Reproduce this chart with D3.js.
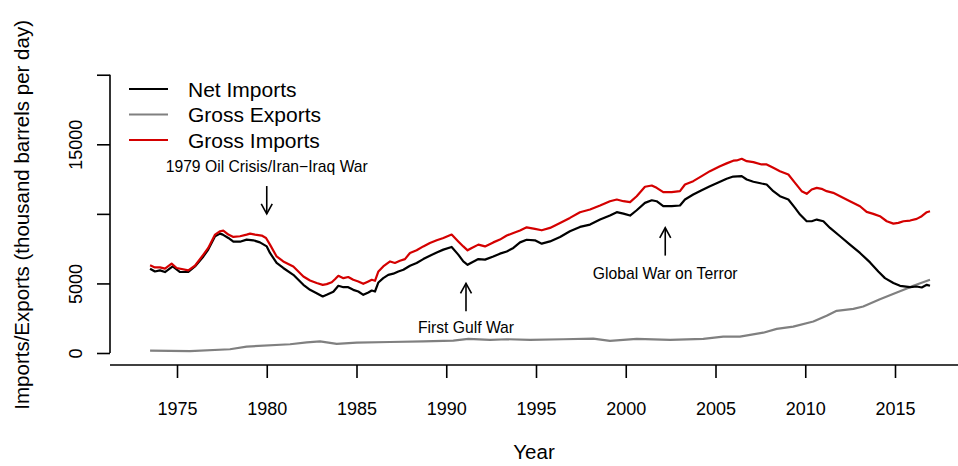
<!DOCTYPE html>
<html>
<head>
<meta charset="utf-8">
<script src="https://cdn.jsdelivr.net/npm/d3@7"></script>
<style>
  html, body { margin: 0; padding: 0; background: #fff; }
  svg { display: block; font-family: "Liberation Sans", Arial, Helvetica, sans-serif; }
</style>
</head>
<body>
<svg id="chart" width="958" height="466"></svg>
<script>
// U.S. crude oil trade, 12-month average, thousand barrels per day
const netYears = [1973.50,1973.77,1974.05,1974.33,1974.76,1975.17,1975.63,1976.00,1976.47,1976.74,1977.12,1977.40,1977.55,1977.86,1978.14,1978.51,1978.88,1979.25,1979.62,1980.00,1980.18,1980.55,1980.92,1981.48,1982.04,1982.41,1982.78,1983.12,1983.34,1983.71,1983.99,1984.27,1984.54,1984.82,1985.10,1985.38,1985.66,1985.85,1986.03,1986.22,1986.49,1986.77,1987.05,1987.33,1987.61,1987.98,1988.35,1988.72,1989.09,1989.47,1989.84,1990.30,1990.67,1990.95,1991.19,1991.42,1991.79,1992.16,1992.62,1992.99,1993.37,1993.74,1994.11,1994.48,1994.94,1995.32,1995.78,1996.34,1996.89,1997.45,1998.01,1998.57,1999.12,1999.50,1999.87,2000.24,2000.61,2001.07,2001.45,2001.72,2002.09,2002.56,2003.02,2003.30,2003.76,2004.23,2004.69,2005.25,2005.62,2005.99,2006.46,2006.74,2007.11,2007.57,2007.85,2008.22,2008.59,2009.06,2009.43,2009.71,2010.08,2010.36,2010.64,2011.01,2011.38,2011.94,2012.49,2013.05,2013.61,2014.07,2014.44,2014.91,2015.28,2015.84,2016.21,2016.49,2016.77,2016.95];
const netImports = [6060,5860,5940,5820,6220,5820,5820,6220,6940,7430,8390,8580,8510,8270,8000,8000,8150,8100,7950,7660,7190,6470,6110,5620,4900,4540,4300,4060,4180,4400,4830,4730,4730,4540,4420,4180,4350,4490,4420,5070,5380,5620,5700,5860,5980,6270,6470,6750,6990,7230,7430,7620,7070,6580,6340,6510,6750,6710,6940,7140,7300,7550,7950,8140,8100,7860,8020,8340,8750,9060,9230,9590,9880,10120,10020,9880,10260,10790,10980,10910,10550,10550,10600,11030,11390,11700,11990,12310,12520,12680,12710,12470,12310,12180,12110,11630,11270,11030,10430,9950,9470,9470,9590,9470,8990,8390,7790,7190,6510,5860,5380,5030,4830,4730,4780,4710,4900,4830];

const importYears = [1973.50,1973.77,1974.05,1974.33,1974.70,1974.98,1975.63,1976.00,1976.47,1976.74,1977.12,1977.40,1977.58,1977.86,1978.14,1978.51,1978.88,1979.07,1979.35,1979.72,1979.96,1980.18,1980.55,1980.92,1981.48,1982.04,1982.41,1982.78,1983.12,1983.34,1983.62,1983.80,1983.99,1984.27,1984.54,1984.82,1985.10,1985.38,1985.66,1985.85,1986.03,1986.22,1986.49,1986.87,1987.14,1987.42,1987.70,1987.98,1988.35,1988.72,1989.09,1989.47,1989.84,1990.30,1990.67,1990.95,1991.19,1991.42,1991.79,1992.16,1992.62,1992.99,1993.37,1993.74,1994.11,1994.48,1994.94,1995.32,1995.78,1996.34,1996.89,1997.45,1998.01,1998.57,1999.12,1999.50,1999.87,2000.24,2000.61,2001.07,2001.45,2001.72,2002.09,2002.56,2003.02,2003.30,2003.76,2004.23,2004.69,2005.25,2005.62,2005.99,2006.18,2006.46,2006.74,2007.11,2007.57,2007.85,2008.22,2008.59,2009.06,2009.43,2009.80,2010.08,2010.36,2010.64,2010.91,2011.19,2011.56,2011.94,2012.49,2013.05,2013.42,2013.79,2014.16,2014.54,2014.91,2015.19,2015.47,2015.84,2016.21,2016.49,2016.77,2016.95];
const grossImports = [6300,6150,6150,6060,6420,6110,5940,6270,7070,7550,8510,8750,8800,8510,8340,8390,8510,8580,8510,8440,8270,7790,6940,6580,6220,5500,5210,5030,4900,4950,5080,5300,5550,5380,5460,5260,5140,4970,5140,5260,5190,5860,6220,6580,6470,6630,6750,7190,7380,7660,7910,8100,8270,8510,8020,7660,7380,7550,7790,7660,7950,8150,8440,8630,8800,9030,8920,8820,8990,9350,9710,10120,10310,10600,10910,11030,10910,10840,11270,11950,12040,11870,11560,11560,11630,12110,12350,12710,13070,13430,13630,13820,13840,13960,13790,13720,13550,13550,13310,13070,12830,12230,11630,11440,11750,11870,11800,11630,11510,11270,10910,10550,10140,10000,9830,9470,9300,9350,9470,9520,9640,9830,10120,10190];

const exportYears = [1973.50,1975.72,1977.95,1978.88,1981.30,1982.23,1982.97,1983.90,1985.01,1986.87,1988.72,1990.39,1991.23,1992.44,1993.37,1994.67,1996.52,1998.19,1999.12,2000.61,2002.47,2004.32,2005.43,2006.36,2007.66,2008.41,2009.33,2010.45,2011.19,2011.75,2012.68,2013.23,2014.16,2015.10,2015.84,2016.02,2016.95];
const grossExports = [170,140,270,460,630,770,840,650,740,790,840,890,1010,940,990,940,990,1030,870,1010,940,1010,1180,1180,1460,1730,1900,2260,2670,3030,3170,3340,3870,4350,4730,4830,5260];

const seriesNames = ["Net Imports", "Gross Exports", "Gross Imports"];
const seriesColors = ["#000000", "#808080", "#d40000"];

const xTicks = [1975, 1980, 1985, 1990, 1995, 2000, 2005, 2010, 2015];
const yTicks = [0, 5000, 10000, 15000, 20000];
const yTickLabels = ["0", "5000", "", "15000", ""];

const eventLabels = ["1979 Oil Crisis/Iran\u2212Iraq War", "First Gulf War", "Global War on Terror"];
const eventYears = [1980, 1991.1, 2002.2];
const eventArrowFrom = [12000, 3000, 7000];
const eventArrowTo = [10000, 5000, 9000];
const eventTextAt = [13400, 1800, 5700];

(function draw() {
  const svg = d3.select("#chart");

  // plot region edges
  const padLeft = 110, padRight = 958, axisY = 365;

  const x = d3.scaleLinear().domain([1975, 2015]).range([177, 895]);
  const y = d3.scaleLinear().domain([0, 15000]).range([353, 144.3]);

  // y axis
  const yAxis = d3.axisLeft(y).tickValues(yTicks).tickSize(13).tickFormat((d, i) => yTickLabels[i]);
  const gy = svg.append("g").attr("transform", `translate(${padLeft},0)`).call(yAxis);
  gy.select(".domain").attr("d", `M0,${y(0)}V${y(20000)}`).attr("stroke", "#000").attr("stroke-width", 1.6);
  gy.selectAll(".tick line").attr("stroke", "#000").attr("stroke-width", 1.6);
  gy.selectAll(".tick text")
    .attr("x", null).attr("dy", null)
    .attr("transform", "translate(-28,0) rotate(-90)")
    .attr("text-anchor", "middle")
    .attr("font-size", 18).attr("font-family", "Liberation Sans, Arial, sans-serif")
    .attr("fill", "#000");

  // x axis
  const xAxis = d3.axisBottom(x).tickValues(xTicks).tickSize(13).tickFormat(d3.format("d"));
  const gx = svg.append("g").attr("transform", `translate(0,${axisY})`).call(xAxis);
  gx.select(".domain").attr("d", `M${padLeft},0H${padRight}`).attr("stroke", "#000").attr("stroke-width", 1.6);
  gx.selectAll(".tick line").attr("stroke", "#000").attr("stroke-width", 1.6);
  gx.selectAll(".tick text")
    .attr("y", 50).attr("dy", null)
    .attr("font-size", 18).attr("font-family", "Liberation Sans, Arial, sans-serif")
    .attr("fill", "#000");

  // axis titles
  svg.append("text")
    .attr("transform", `translate(29,${(y(0) + y(20000)) / 2 + 1}) rotate(-90)`)
    .attr("text-anchor", "middle").attr("font-size", 20.5)
    .text("Imports/Exports (thousand barrels per day)");
  svg.append("text")
    .attr("x", (padLeft + padRight) / 2).attr("y", 459)
    .attr("text-anchor", "middle").attr("font-size", 20.5)
    .text("Year");

  // series lines
  const line = d3.line().x(d => x(d[0])).y(d => y(d[1]));
  const series = [
    d3.zip(netYears, netImports),
    d3.zip(exportYears, grossExports),
    d3.zip(importYears, grossImports)
  ];
  [1, 0, 2].forEach(i => {
    svg.append("path")
      .datum(series[i])
      .attr("fill", "none")
      .attr("stroke", seriesColors[i])
      .attr("stroke-width", 2.2)
      .attr("stroke-linejoin", "round")
      .attr("d", line);
  });

  // legend
  const legendRows = [89, 114.5, 140];
  seriesNames.forEach((name, i) => {
    svg.append("line")
      .attr("x1", 129).attr("x2", 168)
      .attr("y1", legendRows[i]).attr("y2", legendRows[i])
      .attr("stroke", seriesColors[i]).attr("stroke-width", 2.2);
    svg.append("text")
      .attr("x", 188).attr("y", legendRows[i] + 7.5)
      .attr("font-size", 21)
      .text(name);
  });

  // event annotations with arrows
  eventLabels.forEach((label, i) => {
    const ax = x(eventYears[i]);
    const y0 = y(eventArrowFrom[i]), y1 = y(eventArrowTo[i]);
    const dir = Math.sign(y1 - y0);
    svg.append("line")
      .attr("x1", ax).attr("x2", ax).attr("y1", y0).attr("y2", y1)
      .attr("stroke", "#000").attr("stroke-width", 1.6);
    const hl = 10, hw = 5.5;
    svg.append("path")
      .attr("d", `M${ax - hw},${y1 - dir * hl}L${ax},${y1}L${ax + hw},${y1 - dir * hl}`)
      .attr("fill", "none").attr("stroke", "#000").attr("stroke-width", 1.6);
    svg.append("text")
      .attr("x", ax).attr("y", y(eventTextAt[i]) + 5.5)
      .attr("text-anchor", "middle").attr("font-size", 15.7)
      .text(label);
  });
})();
</script>
</body>
</html>
